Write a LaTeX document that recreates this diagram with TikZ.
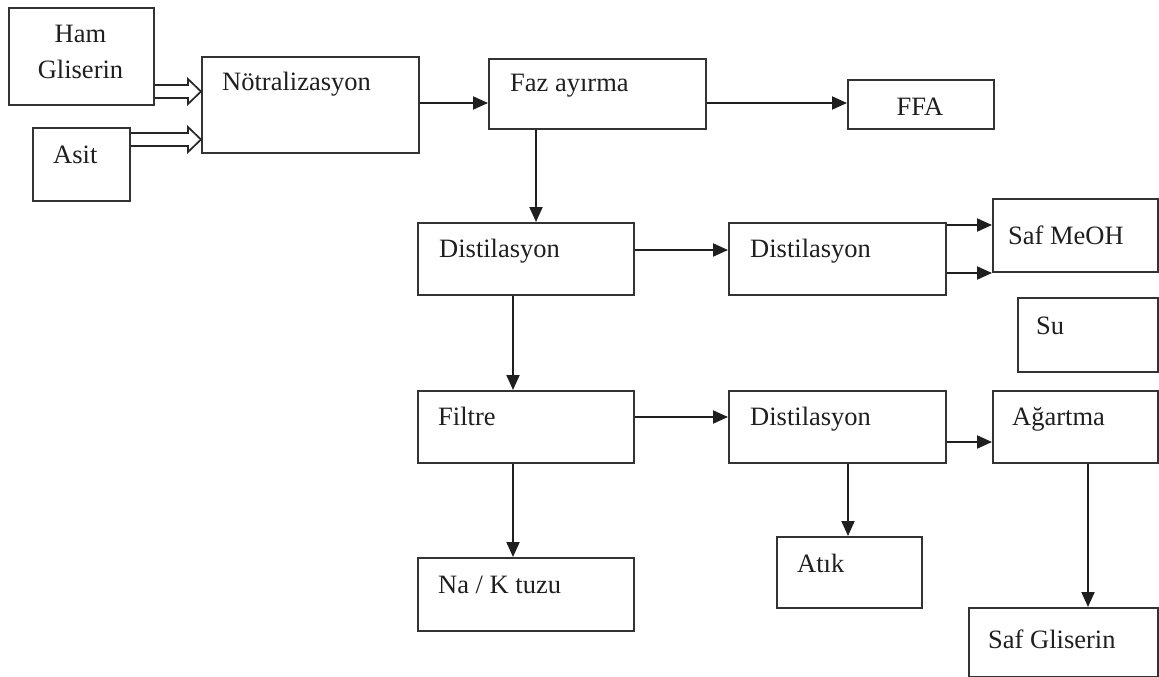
\documentclass[tikz,border=0pt]{standalone}
\usepackage{fontspec}
\setmainfont{Liberation Serif}
\usetikzlibrary{arrows.meta}
\begin{document}
\begin{tikzpicture}[x=1pt,y=-1pt,
  box/.style={draw=black!80,line width=2pt,rectangle,inner sep=0pt,anchor=north west},
  lbl/.style={anchor=base west,inner sep=0pt,text=black!88,font=\fontsize{26.5}{30}\selectfont},
  clbl/.style={lbl,anchor=base},
  flow/.style={draw=black!88,line width=2pt,-{Triangle[length=15pt,width=13pt]}},
  hollow/.style={draw=black!85,line width=1.7pt,line join=miter}]
\useasboundingbox[fill=white] (0,0) rectangle (1159,677);

% process blocks
\node[box,minimum width=145pt,minimum height=97pt] (ham) at (8,7) {};
\node[box,minimum width=97pt,minimum height=73pt] (asit) at (32,127) {};
\node[box,minimum width=217pt,minimum height=96pt] (notr) at (201,56) {};
\node[box,minimum width=217pt,minimum height=70pt] (faz) at (488,58) {};
\node[box,minimum width=146pt,minimum height=49pt] (ffa) at (847,79) {};
\node[box,minimum width=216pt,minimum height=72pt] (d1) at (417,222) {};
\node[box,minimum width=217pt,minimum height=72pt] (d2) at (728,222) {};
\node[box,minimum width=165pt,minimum height=73pt] (meoh) at (992,198) {};
\node[box,minimum width=140pt,minimum height=74pt] (su) at (1017,297) {};
\node[box,minimum width=216pt,minimum height=72pt] (filtre) at (417,390) {};
\node[box,minimum width=217pt,minimum height=72pt] (d3) at (728,390) {};
\node[box,minimum width=165pt,minimum height=72pt] (agart) at (992,390) {};
\node[box,minimum width=216pt,minimum height=73pt] (nak) at (417,557) {};
\node[box,minimum width=145pt,minimum height=71pt] (atik) at (776,536) {};
\node[box,minimum width=189pt,minimum height=69pt] (safg) at (968,607) {};

% labels
\node[clbl] at (80.5,43) {Ham};
\node[clbl] at (80.5,78) {Gliserin};
\node[lbl] at (53,163) {Asit};
\node[lbl] at (222,91) {Nötralizasyon};
\node[lbl] at (510,92) {Faz ayırma};
\node[clbl] at (920,115) {FFA};
\node[lbl] at (439,257) {Distilasyon};
\node[lbl] at (750,257) {Distilasyon};
\node[lbl] at (1008,244) {Saf MeOH};
\node[lbl] at (1036,334) {Su};
\node[lbl] at (438,425) {Filtre};
\node[lbl] at (750,425) {Distilasyon};
\node[lbl] at (1012,425) {Ağartma};
\node[lbl] at (438,593) {Na / K tuzu};
\node[lbl] at (797,572) {Atık};
\node[lbl] at (988,648) {Saf Gliserin};

% hollow feed arrows into the neutralisation step
\draw[hollow] (ham.east |- 0,85) -- (188,85) -- (188,79) -- (notr.west |- 0,91.5)
  -- (188,104) -- (188,98) -- (ham.east |- 0,98);
\draw[hollow] (asit.east |- 0,133) -- (188,133) -- (188,127) -- (notr.west |- 0,139.5)
  -- (188,152) -- (188,146) -- (asit.east |- 0,146);

% process flow
\draw[flow] (notr.east |- 0,103) -- (faz.west |- 0,103);
\draw[flow] (faz.east |- 0,103) -- (ffa.west |- 0,103);
\draw[flow] (faz.south -| 536,0) -- (d1.north -| 536,0);
\draw[flow] (d1.east |- 0,250) -- (d2.west |- 0,250);
\draw[flow] (d2.east |- 0,225) -- (meoh.west |- 0,225);
\draw[flow] (d2.east |- meoh.south west) -- (meoh.south west);
\draw[flow] (d1.south -| 513,0) -- (filtre.north -| 513,0);
\draw[flow] (filtre.south -| 513,0) -- (nak.north -| 513,0);
\draw[flow] (filtre.east |- 0,417) -- (d3.west |- 0,417);
\draw[flow] (d3.east |- 0,442) -- (agart.west |- 0,442);
\draw[flow] (d3.south -| 848,0) -- (atik.north -| 848,0);
\draw[flow] (agart.south -| 1088,0) -- (safg.north -| 1088,0);
\end{tikzpicture}
\end{document}
